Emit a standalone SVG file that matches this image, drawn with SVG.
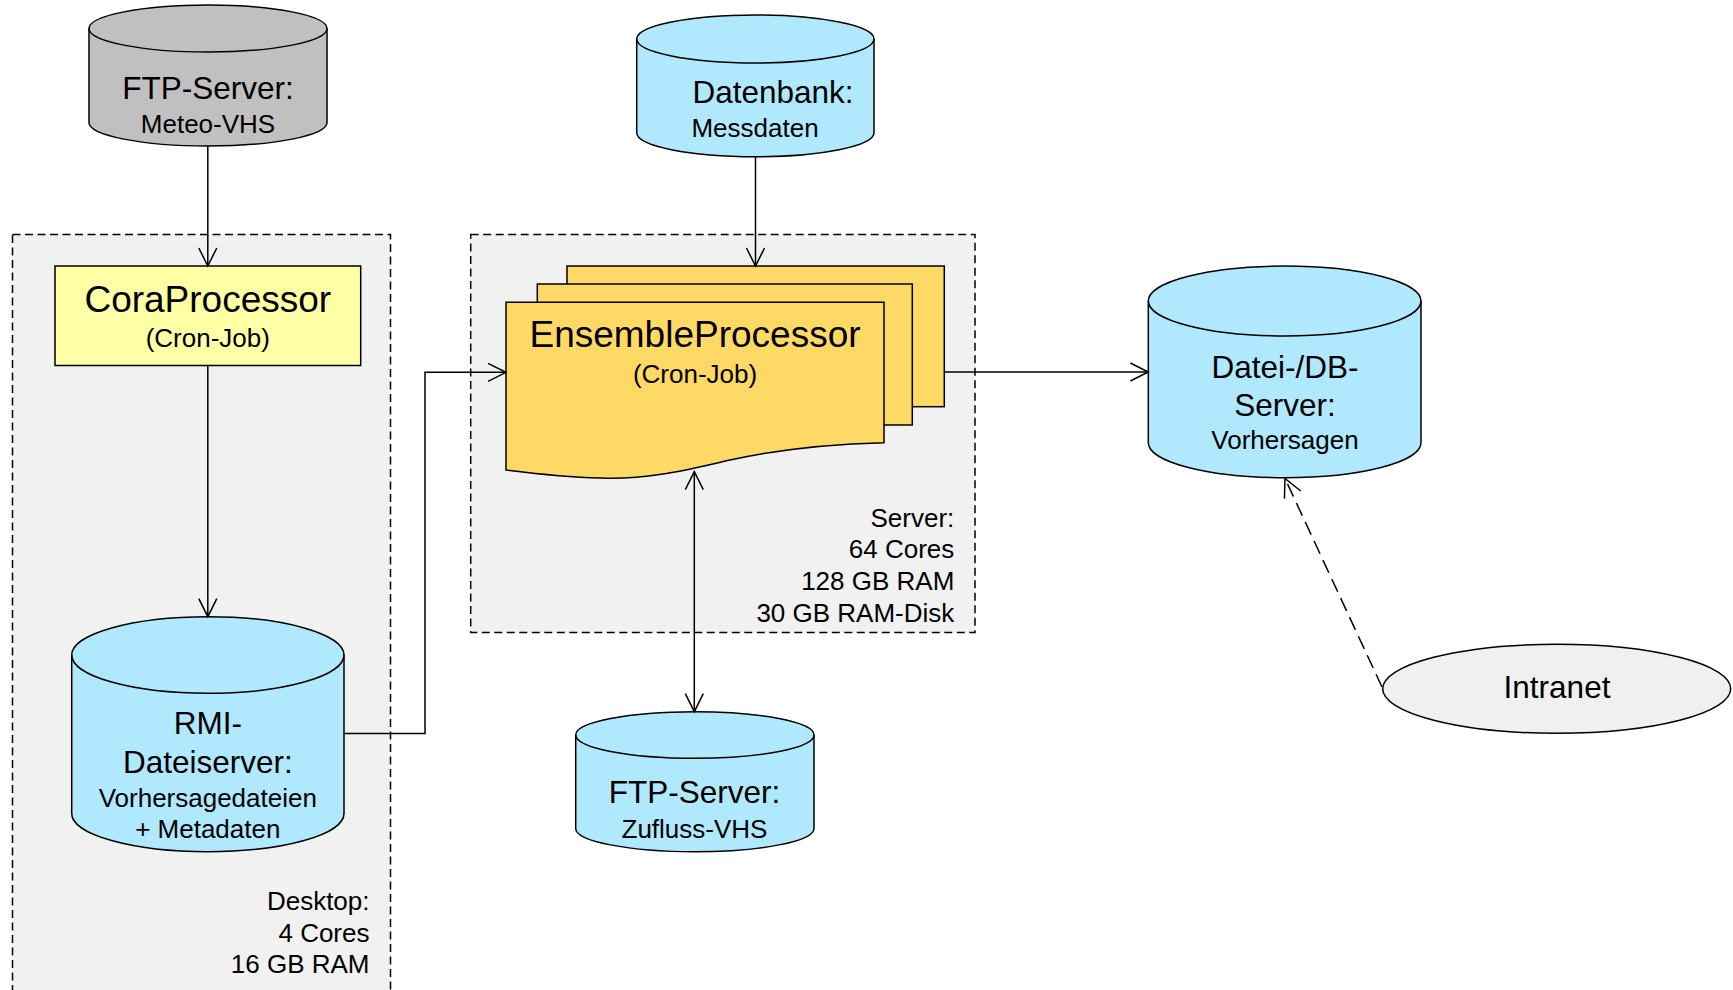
<svg xmlns="http://www.w3.org/2000/svg" width="1733" height="990" viewBox="0 0 1733 990">
  <style>
    text { font-family: "Liberation Sans", Arial, sans-serif; fill: #000; }
    .h { font-size: 31.5px; text-anchor: middle; }
    .s { font-size: 26px; text-anchor: middle; }
    .big { font-size: 37px; text-anchor: middle; }
    .r { font-size: 26px; text-anchor: end; }
    .box { fill: #F1F1F1; stroke: #000; stroke-width: 1.5; stroke-dasharray: 8 4.5; }
    .db { fill: #B0E9FD; stroke: #000; stroke-width: 1.5; }
    .db-grey { fill: #C0C0C0; stroke: #000; stroke-width: 1.5; }
    .rim { fill: none; stroke: #000; stroke-width: 1.5; }
    .sheet { fill: #FFD966; stroke: #000; stroke-width: 1.5; }
    .edge { fill: none; stroke: #000; stroke-width: 1.5; }
    .dash { stroke-dasharray: 14 7; }
  </style>
  <defs>
    <marker id="open" viewBox="-20 -11 22 22" markerWidth="22" markerHeight="22" refX="0" refY="0" orient="auto-start-reverse" markerUnits="userSpaceOnUse">
      <path d="M-18,-9 L0,0 L-18,9" fill="none" stroke="#000" stroke-width="1.5"/>
    </marker>
  </defs>

  <rect width="1733" height="990" fill="#FFFFFF"/>

  <!-- host boundaries -->
  <g id="desktop">
    <rect class="box" x="12.5" y="234.5" width="378" height="770"/>
    <text class="r" x="369.5" y="910">Desktop:</text>
    <text class="r" x="369.5" y="941.7">4 Cores</text>
    <text class="r" x="369.5" y="973.3">16 GB RAM</text>
  </g>
  <g id="server">
    <rect class="box" x="470.7" y="234.5" width="504.3" height="398"/>
    <text class="r" x="954.3" y="526.7">Server:</text>
    <text class="r" x="954.3" y="558.3">64 Cores</text>
    <text class="r" x="954.3" y="590">128 GB RAM</text>
    <text class="r" x="954.3" y="621.7">30 GB RAM-Disk</text>
  </g>

  <!-- FTP server (weather forecasts) -->
  <g id="ftp-meteo">
    <path class="db-grey" d="M89,28.5 A119,23.5 0 0 1 327,28.5 L327,122.5 A119,23.5 0 0 1 89,122.5 Z"/>
    <path class="rim" d="M89,28.5 A119,23.5 0 0 0 327,28.5"/>
    <text class="h" x="208" y="99">FTP-Server:</text>
    <text class="s" x="208" y="133">Meteo-VHS</text>
  </g>

  <!-- CoraProcessor -->
  <g id="cora">
    <rect x="55" y="266" width="305.7" height="99.5" fill="#FFFFA6" stroke="#000" stroke-width="1.5"/>
    <text class="big" x="207.8" y="311.7">CoraProcessor</text>
    <text class="s" x="207.8" y="346.5">(Cron-Job)</text>
  </g>

  <!-- RMI file server -->
  <g id="rmi">
    <path class="db" d="M71.7,655 A136.15,38.3 0 0 1 344,655 L344,813.4 A136.15,38.3 0 0 1 71.7,813.4 Z"/>
    <path class="rim" d="M71.7,655 A136.15,38.3 0 0 0 344,655"/>
    <text class="h" x="207.8" y="734">RMI-</text>
    <text class="h" x="207.8" y="773.3">Dateiserver:</text>
    <text class="s" x="207.8" y="806.7">Vorhersagedateien</text>
    <text class="s" x="207.8" y="838.3">+ Metadaten</text>
  </g>

  <!-- measurement database -->
  <g id="datenbank">
    <path class="db" d="M636.7,39 A118.65,24 0 0 1 874,39 L874,132.7 A118.65,24 0 0 1 636.7,132.7 Z"/>
    <path class="rim" d="M636.7,39 A118.65,24 0 0 0 874,39"/>
    <text class="h" x="773" y="103.3">Datenbank:</text>
    <text class="s" x="755" y="136.7">Messdaten</text>
  </g>

  <!-- EnsembleProcessor (stacked documents) -->
  <g id="ensemble">
    <rect class="sheet" x="567" y="266" width="377.3" height="140.7"/>
    <rect class="sheet" x="537.3" y="284" width="375" height="141"/>
    <path class="sheet" d="M506,302.3 L884,302.3 L884,442.7 C830,444 780,449 730,460 C690,469 650,480 600,478 C560,477 530,473 506,470 Z"/>
    <text class="big" x="695" y="347.3">EnsembleProcessor</text>
    <text class="s" x="695" y="382.5">(Cron-Job)</text>
  </g>

  <!-- FTP server (runoff forecasts) -->
  <g id="ftp-zufluss">
    <path class="db" d="M575.7,735 A119.15,23.3 0 0 1 814,735 L814,828.4 A119.15,23.3 0 0 1 575.7,828.4 Z"/>
    <path class="rim" d="M575.7,735 A119.15,23.3 0 0 0 814,735"/>
    <text class="h" x="694.5" y="802.7">FTP-Server:</text>
    <text class="s" x="694.5" y="838.3">Zufluss-VHS</text>
  </g>

  <!-- file / DB server for forecasts -->
  <g id="datei-db">
    <path class="db" d="M1148.3,301 A136.35,35 0 0 1 1421,301 L1421,442.7 A136.35,35 0 0 1 1148.3,442.7 Z"/>
    <path class="rim" d="M1148.3,301 A136.35,35 0 0 0 1421,301"/>
    <text class="h" x="1285" y="378.3">Datei-/DB-</text>
    <text class="h" x="1285" y="415.7">Server:</text>
    <text class="s" x="1285" y="449.3">Vorhersagen</text>
  </g>

  <!-- Intranet -->
  <g id="intranet">
    <ellipse cx="1556.7" cy="688.8" rx="174" ry="44.5" fill="#F0F0F0" stroke="#000" stroke-width="1.5"/>
    <text class="h" x="1557" y="698.3">Intranet</text>
  </g>

  <!-- connectors -->
  <g id="connectors">
    <path class="edge" d="M207.8,146 V266" marker-end="url(#open)"/>
    <path class="edge" d="M207.8,365.5 V616.7" marker-end="url(#open)"/>
    <path class="edge" d="M344,733.5 H425 V372.3 H506" marker-end="url(#open)"/>
    <path class="edge" d="M755.5,156.7 V266" marker-end="url(#open)"/>
    <path class="edge" d="M944.3,372 H1148.3" marker-end="url(#open)"/>
    <path class="edge" d="M694.3,471.7 V711.7" marker-start="url(#open)" marker-end="url(#open)"/>
    <path class="edge dash" d="M1382,687 L1285,478.5" marker-end="url(#open)"/>
  </g>
</svg>
